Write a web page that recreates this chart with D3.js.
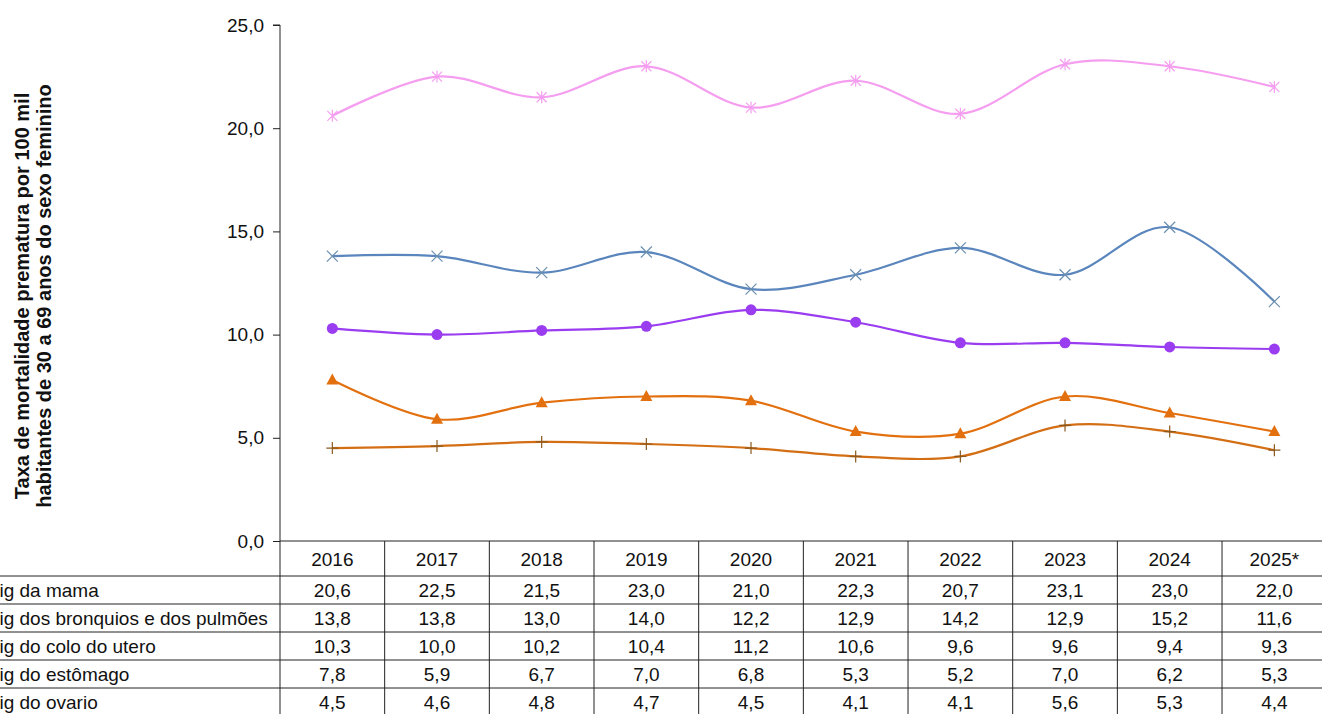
<!DOCTYPE html>
<html>
<head>
<meta charset="utf-8">
<script src="https://cdn.jsdelivr.net/npm/d3@7"></script>
<style>
  body { margin: 0; background: #fff; }
  svg { display: block; font-family: "Liberation Sans", Arial, sans-serif; }
</style>
</head>
<body>
<svg width="1322" height="714"></svg>
<script>
// Data
const years = ["2016", "2017", "2018", "2019", "2020", "2021", "2022", "2023", "2024", "2025*"];
const seriesNames = [
  "Neoplasia malig da mama",
  "Neoplasia malig dos bronquios e dos pulmões",
  "Neoplasia malig do colo do utero",
  "Neoplasia malig do estômago",
  "Neoplasia malig do ovario"
];
const mama = [20.6, 22.5, 21.5, 23.0, 21.0, 22.3, 20.7, 23.1, 23.0, 22.0];
const pulmoes = [13.8, 13.8, 13.0, 14.0, 12.2, 12.9, 14.2, 12.9, 15.2, 11.6];
const utero = [10.3, 10.0, 10.2, 10.4, 11.2, 10.6, 9.6, 9.6, 9.4, 9.3];
const estomago = [7.8, 5.9, 6.7, 7.0, 6.8, 5.3, 5.2, 7.0, 6.2, 5.3];
const ovario = [4.5, 4.6, 4.8, 4.7, 4.5, 4.1, 4.1, 5.6, 5.3, 4.4];
const yTicks = [0, 5, 10, 15, 20, 25];

const series = [
  { name: seriesNames[0], values: mama, color: "#f59ef0", marker: "star" },
  { name: seriesNames[1], values: pulmoes, color: "#5a86bd", marker: "x" },
  { name: seriesNames[2], values: utero, color: "#9a3cf0", marker: "circle" },
  { name: seriesNames[3], values: estomago, color: "#e3700f", marker: "triangle" },
  { name: seriesNames[4], values: ovario, color: "#d46e14", marker: "plus" }
];

const svg = d3.select("svg");
const plotLeft = 280, colW = 104.67;
const plotTop = 25, plotBottom = 541;
const fs = "19px";

const x = d3.scaleBand().domain(years).range([plotLeft, plotLeft + colW * years.length]);
const y = d3.scaleLinear().domain([0, 25]).range([plotBottom, plotTop]);
const fmt = v => v.toFixed(1).replace(".", ",");

// Y axis
const yAxis = d3.axisLeft(y).tickValues(yTicks).tickSize(7).tickPadding(9).tickFormat(fmt);
const gy = svg.append("g").attr("transform", `translate(${plotLeft},0)`).call(yAxis);
gy.select(".domain").attr("stroke", "#222").attr("d", `M-7,${plotTop}H0V${plotBottom + 175}`);
gy.selectAll(".tick line").attr("stroke", "#222");
gy.selectAll(".tick text").attr("fill", "#111").style("font-size", fs);

// Axis title
const title = svg.append("text")
  .attr("transform", "translate(33,296) rotate(-90)")
  .attr("text-anchor", "middle")
  .style("font-size", "20px").style("font-weight", "bold").attr("fill", "#111");
title.append("tspan").attr("x", 0).attr("y", -4).text("Taxa de mortalidade prematura por 100 mil");
title.append("tspan").attr("x", 0).attr("y", 18).text("habitantes de 30 a 69 anos do sexo feminino");

// Lines
const line = d3.line()
  .x((d, i) => x(years[i]) + x.bandwidth() / 2)
  .y(d => y(d))
  .curve(d3.curveCardinal.tension(0));

series.forEach(s => {
  svg.append("path")
    .datum(s.values)
    .attr("fill", "none")
    .attr("stroke", s.color)
    .attr("stroke-width", 2.2)
    .attr("d", line);

  const g = svg.append("g");
  s.values.forEach((v, i) => {
    const cx = x(years[i]) + x.bandwidth() / 2, cy = y(v);
    const m = g.append("g").attr("transform", `translate(${cx},${cy})`);
    if (s.marker === "circle") {
      m.append("circle").attr("r", 5.5).attr("fill", s.color);
    } else if (s.marker === "triangle") {
      m.append("path").attr("d", "M0,-6.5L6,4.5L-6,4.5Z").attr("fill", s.color);
    } else if (s.marker === "x") {
      m.append("path").attr("d", "M-5.5,-5.5L5.5,5.5M-5.5,5.5L5.5,-5.5")
        .attr("stroke", "#6a8faf").attr("stroke-width", 1.2);
    } else if (s.marker === "star") {
      m.append("path").attr("d", "M-5,-5L5,5M-5,5L5,-5M0,-6V6")
        .attr("stroke", s.color).attr("stroke-width", 1.2);
    } else if (s.marker === "plus") {
      m.append("path").attr("d", "M-6,0H6M0,-6V6")
        .attr("stroke", "#8a5a20").attr("stroke-width", 1.2);
    }
  });
});

// Data table
const headerBottom = 576, rowH = 28;
const tbl = svg.append("g");
const plotRight = plotLeft + colW * years.length;

// horizontal lines
tbl.append("line").attr("x1", plotLeft).attr("x2", plotRight).attr("y1", plotBottom).attr("y2", plotBottom)
  .attr("stroke", "#222");
d3.range(series.length + 1).forEach(r => {
  const yy = headerBottom + r * rowH;
  tbl.append("line").attr("x1", 0).attr("x2", plotRight).attr("y1", yy).attr("y2", yy)
    .attr("stroke", "#222");
});
// vertical lines
years.forEach((yr, i) => {
  const xx = x(yr) + x.bandwidth();
  tbl.append("line").attr("x1", xx).attr("x2", xx).attr("y1", plotBottom).attr("y2", 714)
    .attr("stroke", "#222");
});

// header
tbl.selectAll(".yr").data(years).join("text")
  .attr("x", d => x(d) + x.bandwidth() / 2)
  .attr("y", (plotBottom + headerBottom) / 2 + 7)
  .attr("text-anchor", "middle")
  .style("font-size", fs).attr("fill", "#111")
  .text(d => d);

// rows
series.forEach((s, r) => {
  const cy = headerBottom + r * rowH + rowH / 2 + 7;
  // row label, its left part falls outside the picture
  const tmp = svg.append("text").style("font-size", fs).text("Neoplasia mal");
  const pw = tmp.node().getComputedTextLength();
  tmp.remove();
  tbl.append("text").attr("x", -0.5 - pw).attr("y", cy)
    .style("font-size", fs).attr("fill", "#111").text(s.name);
  s.values.forEach((v, i) => {
    tbl.append("text")
      .attr("x", x(years[i]) + x.bandwidth() / 2)
      .attr("y", cy)
      .attr("text-anchor", "middle")
      .style("font-size", fs).attr("fill", "#111")
      .text(fmt(v));
  });
});
</script>
</body>
</html>
